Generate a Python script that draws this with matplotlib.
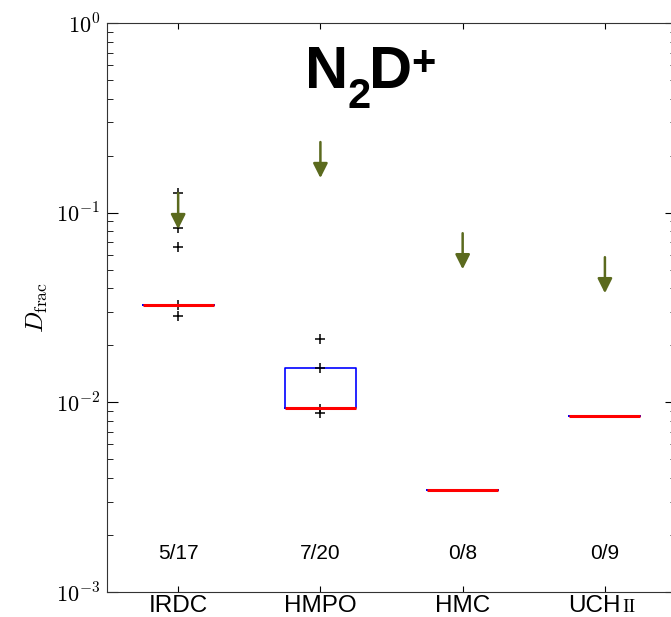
import numpy as np
import matplotlib.pyplot as plt
import matplotlib.transforms as mtransforms

plt.rcParams['mathtext.fontset'] = 'cm'

# data
categories = ['IRDC', 'HMPO', 'HMC', 'UCH']
counts = ['5/17', '7/20', '0/8', '0/9']
q1 = [0.0326, 0.00933, 0.00345, 0.00847]
med = [0.0326, 0.00933, 0.00345, 0.00847]
q3 = [0.0326, 0.0152, 0.00345, 0.00847]
fliers = [[0.127, 0.083, 0.0659, 0.0326, 0.0285],
          [0.0216, 0.0152, 0.0092, 0.0088],
          [],
          []]
upper_limits = [0.127, 0.236, 0.078, 0.0583]
yticks = [1e-3, 1e-2, 1e-1, 1]
ytick_labels = [r'$10^{-3}$', r'$10^{-2}$', r'$10^{-1}$', r'$10^{0}$']

olive = '#5b6a1e'
sans = ['Liberation Sans', 'DejaVu Sans']

fig = plt.figure(figsize=(6.71, 6.17), dpi=100)
ax = fig.add_axes([0.1595, 0.0405, 0.848, 0.922])

pos = np.arange(1, len(categories) + 1)
stats = []
for i in range(len(categories)):
    stats.append(dict(med=med[i], q1=q1[i], q3=q3[i], whislo=q1[i],
                      whishi=q3[i], fliers=fliers[i]))
ax.bxp(stats, positions=pos, widths=0.5, showcaps=False,
       boxprops=dict(color='blue', lw=1.2),
       whiskerprops=dict(color='blue', lw=1.2),
       medianprops=dict(color='red', lw=2.2),
       flierprops=dict(marker='+', markeredgecolor='black', markersize=7,
                       markeredgewidth=1.1))

# upper limit arrows
for x, lim in zip(pos, upper_limits):
    ax.annotate('', xy=(x, lim * 10 ** -0.19), xytext=(x, lim),
                arrowprops=dict(arrowstyle='-|>', color=olive, lw=1.8,
                                mutation_scale=22, shrinkA=0, shrinkB=0))

for x, c in zip(pos, counts):
    ax.text(x, 0.0685, c, transform=ax.get_xaxis_transform(),
            ha='center', va='center', fontsize=15, family=sans)

ax.set_yscale('log')
ax.set_ylim(1e-3, 1)
ax.set_xlim(0.5, 4.5)
ax.set_yticks(yticks)
ax.set_yticklabels(ytick_labels, fontsize=16)
ax.set_xticks(pos)
ax.set_xticklabels(['IRDC', 'HMPO', 'HMC', ''], fontsize=17.5, family=sans)
# UCHII with small capitals
off = mtransforms.offset_copy(ax.get_xaxis_transform(), fig=fig, x=16, y=0,
                              units='dots')
ax.text(4, -0.006, 'UCH', transform=off, ha='right', va='top', fontsize=17.5,
        family=sans)
off2 = mtransforms.offset_copy(ax.get_xaxis_transform(), fig=fig, x=17,
                               y=-4, units='dots')
ax.text(4, -0.006, 'II', transform=off2, ha='left', va='top', fontsize=14,
        family='Liberation Serif')

ax.tick_params(axis='both', which='both', direction='in', top=True,
               right=True)
ax.tick_params(axis='y', which='major', length=8, pad=5)
ax.tick_params(axis='y', which='minor', length=4)
ax.tick_params(axis='x', which='major', length=4, pad=2)
ax.set_ylabel(r'$D_\mathrm{frac}$', fontsize=18, labelpad=4)

# title N2D+ built from pieces, each placed after the previous one
renderer = fig.canvas.get_renderer()
pieces = [('N', 43, 0), ('2', 30, -20), ('D', 43, 0), ('+', 30, 13)]
x0 = 305
base = 617 - 88
for txt, size, dy in pieces:
    t = fig.text(x0 / 671, (base + dy) / 617, txt, fontsize=size,
                 fontweight='bold', family=sans, va='baseline', ha='left')
    bb = t.get_window_extent(renderer)
    x0 = bb.x1 - 1

for s in ax.spines.values():
    s.set_color('#333333')

fig.savefig('out.png', dpi=100)
